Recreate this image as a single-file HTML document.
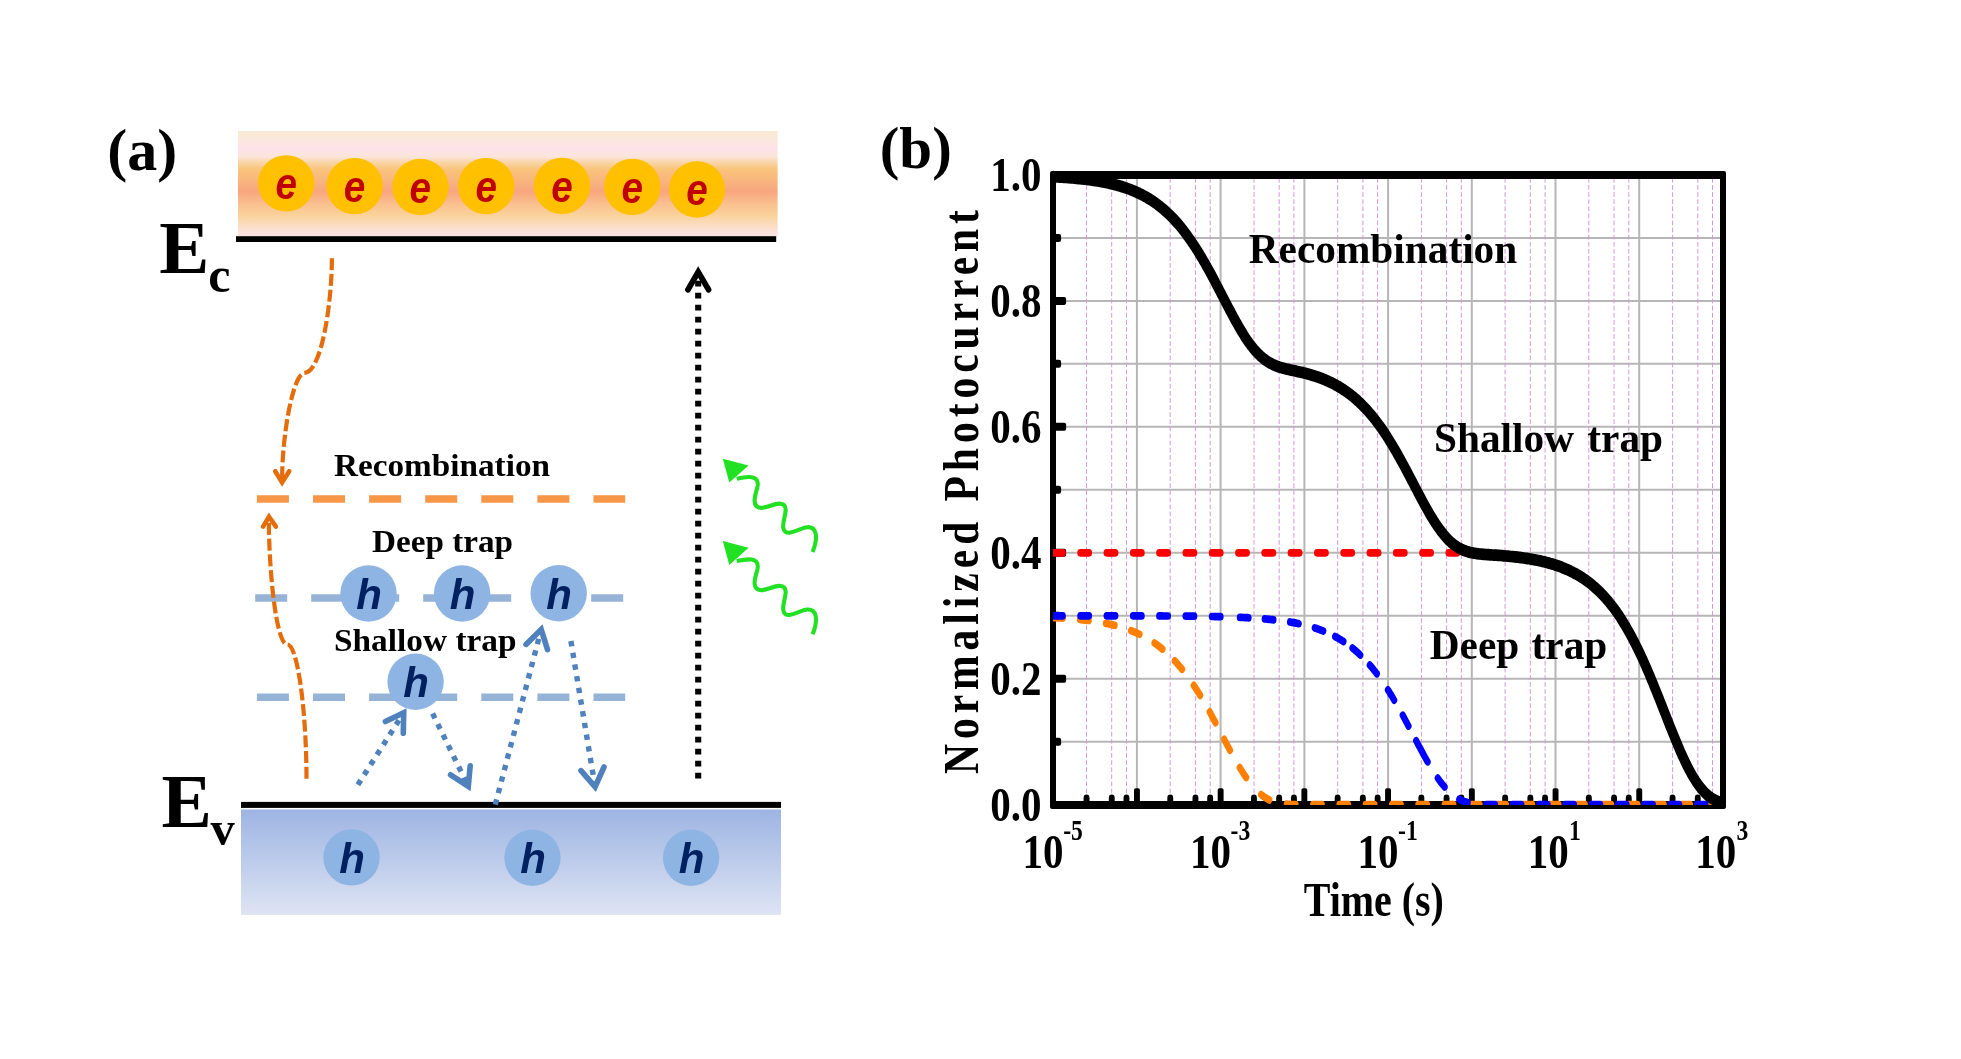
<!DOCTYPE html>
<html><head><meta charset="utf-8"><title>Figure</title>
<style>
html,body{margin:0;padding:0;background:#fff;}
body{width:1961px;height:1059px;overflow:hidden;}
svg{display:block;will-change:transform;}
text{font-family:"Liberation Serif",serif;font-weight:bold;fill:#000;}
.sans{font-family:"Liberation Sans",sans-serif;font-weight:bold;font-style:italic;}
</style></head><body>
<svg width="1961" height="1059" viewBox="0 0 1961 1059">
<defs>
<linearGradient id="gc" x1="0" y1="0" x2="0" y2="1">
<stop offset="0" stop-color="#f9ead2"/>
<stop offset="0.08" stop-color="#fbe8dc"/>
<stop offset="0.173" stop-color="#fde2ea"/>
<stop offset="0.243" stop-color="#fbe5da"/>
<stop offset="0.3" stop-color="#f9d4a6"/>
<stop offset="0.362" stop-color="#f9c47c"/>
<stop offset="0.48" stop-color="#f8b47e"/>
<stop offset="0.576" stop-color="#f8a67e"/>
<stop offset="0.695" stop-color="#f9c190"/>
<stop offset="0.8" stop-color="#fad29a"/>
<stop offset="0.887" stop-color="#fbdcc0"/>
<stop offset="0.962" stop-color="#fce2dc"/>
<stop offset="1" stop-color="#fce4e0"/>
</linearGradient>
<linearGradient id="gv" x1="0" y1="0" x2="0" y2="1">
<stop offset="0" stop-color="#9db4e3"/><stop offset="1" stop-color="#dee4f3"/>
</linearGradient>
<clipPath id="cp"><rect x="-0.25" y="160" width="837.7" height="645.1"/></clipPath>
</defs>
<rect x="0" y="0" width="1961" height="1059" fill="#ffffff"/>
<g id="panel-a">
<rect x="238" y="131" width="539.6" height="105.5" fill="url(#gc)"/>
<rect x="236" y="236.2" width="540.2" height="5.8" fill="#000"/>
<circle cx="286.2" cy="183.4" r="28.2" fill="#ffc000"/>
<text class="sans" x="286.2" y="199.4" font-size="45" text-anchor="middle" style="fill:#c00000" transform="translate(286.2 0) scale(0.86 1) translate(-286.2 0)">e</text>
<circle cx="354.6" cy="186.1" r="28.2" fill="#ffc000"/>
<text class="sans" x="354.6" y="202.1" font-size="45" text-anchor="middle" style="fill:#c00000" transform="translate(354.6 0) scale(0.86 1) translate(-354.6 0)">e</text>
<circle cx="420.4" cy="187" r="28.2" fill="#ffc000"/>
<text class="sans" x="420.4" y="203" font-size="45" text-anchor="middle" style="fill:#c00000" transform="translate(420.4 0) scale(0.86 1) translate(-420.4 0)">e</text>
<circle cx="486.2" cy="186.1" r="28.2" fill="#ffc000"/>
<text class="sans" x="486.2" y="202.1" font-size="45" text-anchor="middle" style="fill:#c00000" transform="translate(486.2 0) scale(0.86 1) translate(-486.2 0)">e</text>
<circle cx="562" cy="185.9" r="28.2" fill="#ffc000"/>
<text class="sans" x="562" y="201.9" font-size="45" text-anchor="middle" style="fill:#c00000" transform="translate(562 0) scale(0.86 1) translate(-562 0)">e</text>
<circle cx="632.3" cy="186.9" r="28.2" fill="#ffc000"/>
<text class="sans" x="632.3" y="202.9" font-size="45" text-anchor="middle" style="fill:#c00000" transform="translate(632.3 0) scale(0.86 1) translate(-632.3 0)">e</text>
<circle cx="697" cy="189.5" r="28.2" fill="#ffc000"/>
<text class="sans" x="697" y="205.5" font-size="45" text-anchor="middle" style="fill:#c00000" transform="translate(697 0) scale(0.86 1) translate(-697 0)">e</text>
<rect x="241" y="809.5" width="540" height="105.4" fill="url(#gv)"/>
<rect x="241" y="801.9" width="540" height="6" fill="#000"/>
<line x1="256.9" y1="499" x2="625.2" y2="499" stroke="#f79646" stroke-width="7.4" stroke-dasharray="32 24.1"/>
<line x1="255.2" y1="598" x2="623.2" y2="598" stroke="#95b3d7" stroke-width="7.4" stroke-dasharray="32 24"/>
<line x1="256.9" y1="697.2" x2="625.2" y2="697.2" stroke="#95b3d7" stroke-width="7.4" stroke-dasharray="32 24.1"/>
<circle cx="351.5" cy="857.4" r="28.2" fill="#8eb4e3"/>
<text class="sans" x="352" y="872.9" font-size="42" text-anchor="middle" style="fill:#002060">h</text>
<circle cx="532.5" cy="857.7" r="28.2" fill="#8eb4e3"/>
<text class="sans" x="533" y="873.2" font-size="42" text-anchor="middle" style="fill:#002060">h</text>
<circle cx="691.1" cy="857.7" r="28.2" fill="#8eb4e3"/>
<text class="sans" x="691.6" y="873.2" font-size="42" text-anchor="middle" style="fill:#002060">h</text>
<circle cx="368.5" cy="593.5" r="28.2" fill="#8eb4e3"/>
<text class="sans" x="369" y="609" font-size="42" text-anchor="middle" style="fill:#002060">h</text>
<circle cx="462.1" cy="593.5" r="28.2" fill="#8eb4e3"/>
<text class="sans" x="462.6" y="609" font-size="42" text-anchor="middle" style="fill:#002060">h</text>
<circle cx="558.7" cy="593.2" r="28.2" fill="#8eb4e3"/>
<text class="sans" x="559.2" y="608.7" font-size="42" text-anchor="middle" style="fill:#002060">h</text>
<circle cx="415.6" cy="681.8" r="28.2" fill="#8eb4e3"/>
<text class="sans" x="416.1" y="697.3" font-size="42" text-anchor="middle" style="fill:#002060">h</text>
<text x="334" y="476" font-size="32" textLength="216" lengthAdjust="spacingAndGlyphs">Recombination</text>
<text x="372" y="552" font-size="32" textLength="141" lengthAdjust="spacingAndGlyphs">Deep trap</text>
<text x="334" y="651" font-size="32" textLength="182.5" lengthAdjust="spacingAndGlyphs">Shallow trap</text>
<text x="107.3" y="169.8" font-size="60">(a)</text>
<text x="159.2" y="273" font-size="75">E</text>
<text x="208.2" y="292.3" font-size="50">c</text>
<text x="161.5" y="826.6" font-size="75.5">E</text>
<text x="210.6" y="845" font-size="48.5">v</text>
<path d="M331.9,258.3 C331.9,301 322,371.5 304.8,372.8 C293.1,372.8 282.1,434.8 282.1,480" fill="none" stroke="#e46c0a" stroke-width="4.2" stroke-dasharray="12 3.7"/>
<path d="M275.2,471.2 L282.1,482.4 L289.2,471.2" fill="none" stroke="#e46c0a" stroke-width="4.6" stroke-linecap="round" stroke-linejoin="miter"/>
<path d="M306.5,778.8 C306.5,709.9 297.2,640.7 286.5,644.6 C275.6,640.4 268.8,567.8 268.8,518" fill="none" stroke="#e46c0a" stroke-width="4.2" stroke-dasharray="12 3.7"/>
<path d="M263,526.6 L269,516.8 L275.9,526.6" fill="none" stroke="#e46c0a" stroke-width="4.6" stroke-linecap="round" stroke-linejoin="miter"/>
<line x1="357.9" y1="784.8" x2="403.7" y2="712.8" stroke="#4f81bd" stroke-width="5.4" stroke-dasharray="5.4 6.45"/>
<path d="M385.4,721.6 L403.7,712.8 L403.3,733.2" fill="none" stroke="#4f81bd" stroke-width="5.6" stroke-linecap="round" stroke-linejoin="miter"/>
<line x1="432.6" y1="713.5" x2="468.3" y2="786.4" stroke="#4f81bd" stroke-width="5.4" stroke-dasharray="5.4 6.45"/>
<path d="M450.6,774.8 L468.3,786.4 L470.2,765.8" fill="none" stroke="#4f81bd" stroke-width="5.6" stroke-linecap="round" stroke-linejoin="miter"/>
<line x1="495.3" y1="804.6" x2="541.2" y2="629.4" stroke="#4f81bd" stroke-width="5.4" stroke-dasharray="5.4 6.45"/>
<path d="M526,644.4 L541.2,629.4 L547.5,649.6" fill="none" stroke="#4f81bd" stroke-width="5.6" stroke-linecap="round" stroke-linejoin="miter"/>
<line x1="570.9" y1="641" x2="595.1" y2="786.8" stroke="#4f81bd" stroke-width="5.4" stroke-dasharray="5.4 6.45"/>
<path d="M581,770.6 L595.1,786.8 L604,767" fill="none" stroke="#4f81bd" stroke-width="5.6" stroke-linecap="round" stroke-linejoin="miter"/>
<line x1="698.2" y1="778.4" x2="698.2" y2="280" stroke="#000" stroke-width="6.1" stroke-dasharray="5.6 6.4"/>
<path d="M687.9,289.7 L698.2,272 L708.6,289.7" fill="none" stroke="#000" stroke-width="5.7" stroke-linecap="round" stroke-linejoin="miter"/>
<g transform="translate(0 0)">
<path d="M736.7,478.7 C742,477.5 747,476.6 751.6,477.2 C756.5,478 758.3,480.5 757.6,486 C756.8,491 754.2,496 754.6,501 C755,506.5 758,508.3 762.5,507.8 C768,507.2 774,503.8 779.3,503.6 C784,503.5 786,506 785.6,511 C785.2,516.5 782.6,522.5 783.2,527.5 C783.8,532 786.5,533.2 790.5,532.5 C796,531.6 802,527.6 807.1,527.2 C811.5,526.9 814.3,528.6 815.5,533 C817,539 815,546 812.6,552" fill="none" stroke="#22e022" stroke-width="4.1" stroke-linecap="butt"/>
<path d="M722.8,458.8 L748.6,465.4 L729.3,482.6 Z" fill="#22e022"/>
</g>
<g transform="translate(0 82.3)">
<path d="M736.7,478.7 C742,477.5 747,476.6 751.6,477.2 C756.5,478 758.3,480.5 757.6,486 C756.8,491 754.2,496 754.6,501 C755,506.5 758,508.3 762.5,507.8 C768,507.2 774,503.8 779.3,503.6 C784,503.5 786,506 785.6,511 C785.2,516.5 782.6,522.5 783.2,527.5 C783.8,532 786.5,533.2 790.5,532.5 C796,531.6 802,527.6 807.1,527.2 C811.5,526.9 814.3,528.6 815.5,533 C817,539 815,546 812.6,552" fill="none" stroke="#22e022" stroke-width="4.1" stroke-linecap="butt"/>
<path d="M722.8,458.8 L748.6,465.4 L729.3,482.6 Z" fill="#22e022"/>
</g>
</g>
<g id="panel-b">
<text x="879.7" y="168" font-size="60" textLength="72.1" lengthAdjust="spacingAndGlyphs">(b)</text>
<path d="M1053,741.7 H1723 M1053,678.7 H1723 M1053,615.8 H1723 M1053,552.8 H1723 M1053,489.8 H1723 M1053,426.8 H1723 M1053,363.8 H1723 M1053,300.9 H1723 M1053,237.9 H1723 M1136.9,175 V805 M1220.6,175 V805 M1304.4,175 V805 M1388.1,175 V805 M1471.8,175 V805 M1555.5,175 V805 M1639.2,175 V805" fill="none" stroke="#b6b6b6" stroke-width="2"/>
<path d="M1086.5,178 V802 M1111.7,178 V802 M1126.5,178 V802 M1170.2,178 V802 M1195.4,178 V802 M1210.2,178 V802 M1254,178 V802 M1279.2,178 V802 M1293.9,178 V802 M1337.7,178 V802 M1362.9,178 V802 M1377.6,178 V802 M1421.4,178 V802 M1446.6,178 V802 M1461.3,178 V802 M1505.1,178 V802 M1530.3,178 V802 M1545.1,178 V802 M1588.8,178 V802 M1614,178 V802 M1628.8,178 V802 M1672.6,178 V802 M1697.8,178 V802 M1712.5,178 V802" fill="none" stroke="#d39ad3" stroke-width="1" stroke-dasharray="4.7 2.4"/>
<path fill-rule="evenodd" fill="#000" d="M1052,171 H1724 Q1726,171 1726,173 V807 Q1726,809 1724,809 H1052 Q1050,809 1050,807 V173 Q1050,171 1052,171 Z M1056,179 V801 H1720 V179 Z"/>
<rect x="1134" y="788.2" width="5.9" height="16" rx="1.8" fill="#000"/>
<rect x="1217.7" y="788.2" width="5.9" height="16" rx="1.8" fill="#000"/>
<rect x="1301.4" y="788.2" width="5.9" height="16" rx="1.8" fill="#000"/>
<rect x="1385.1" y="788.2" width="5.9" height="16" rx="1.8" fill="#000"/>
<rect x="1468.9" y="788.2" width="5.9" height="16" rx="1.8" fill="#000"/>
<rect x="1552.6" y="788.2" width="5.9" height="16" rx="1.8" fill="#000"/>
<rect x="1636.3" y="788.2" width="5.9" height="16" rx="1.8" fill="#000"/>
<rect x="1083.6" y="794.6" width="5.9" height="10" rx="2.95" ry="3.4" fill="#000"/>
<rect x="1108.8" y="794.6" width="5.9" height="10" rx="2.95" ry="3.4" fill="#000"/>
<rect x="1123.5" y="794.6" width="5.9" height="10" rx="2.95" ry="3.4" fill="#000"/>
<rect x="1167.3" y="794.6" width="5.9" height="10" rx="2.95" ry="3.4" fill="#000"/>
<rect x="1192.5" y="794.6" width="5.9" height="10" rx="2.95" ry="3.4" fill="#000"/>
<rect x="1207.2" y="794.6" width="5.9" height="10" rx="2.95" ry="3.4" fill="#000"/>
<rect x="1251" y="794.6" width="5.9" height="10" rx="2.95" ry="3.4" fill="#000"/>
<rect x="1276.2" y="794.6" width="5.9" height="10" rx="2.95" ry="3.4" fill="#000"/>
<rect x="1291" y="794.6" width="5.9" height="10" rx="2.95" ry="3.4" fill="#000"/>
<rect x="1334.7" y="794.6" width="5.9" height="10" rx="2.95" ry="3.4" fill="#000"/>
<rect x="1359.9" y="794.6" width="5.9" height="10" rx="2.95" ry="3.4" fill="#000"/>
<rect x="1374.7" y="794.6" width="5.9" height="10" rx="2.95" ry="3.4" fill="#000"/>
<rect x="1418.4" y="794.6" width="5.9" height="10" rx="2.95" ry="3.4" fill="#000"/>
<rect x="1443.6" y="794.6" width="5.9" height="10" rx="2.95" ry="3.4" fill="#000"/>
<rect x="1458.4" y="794.6" width="5.9" height="10" rx="2.95" ry="3.4" fill="#000"/>
<rect x="1502.2" y="794.6" width="5.9" height="10" rx="2.95" ry="3.4" fill="#000"/>
<rect x="1527.4" y="794.6" width="5.9" height="10" rx="2.95" ry="3.4" fill="#000"/>
<rect x="1542.1" y="794.6" width="5.9" height="10" rx="2.95" ry="3.4" fill="#000"/>
<rect x="1585.9" y="794.6" width="5.9" height="10" rx="2.95" ry="3.4" fill="#000"/>
<rect x="1611.1" y="794.6" width="5.9" height="10" rx="2.95" ry="3.4" fill="#000"/>
<rect x="1625.8" y="794.6" width="5.9" height="10" rx="2.95" ry="3.4" fill="#000"/>
<rect x="1669.6" y="794.6" width="5.9" height="10" rx="2.95" ry="3.4" fill="#000"/>
<rect x="1694.8" y="794.6" width="5.9" height="10" rx="2.95" ry="3.4" fill="#000"/>
<rect x="1709.6" y="794.6" width="5.9" height="10" rx="2.95" ry="3.4" fill="#000"/>
<rect x="1053" y="674.7" width="13.1" height="8" rx="1.8" fill="#000"/>
<rect x="1053" y="548.8" width="13.1" height="8" rx="1.8" fill="#000"/>
<rect x="1053" y="422.8" width="13.1" height="8" rx="1.8" fill="#000"/>
<rect x="1053" y="296.9" width="13.1" height="8" rx="1.8" fill="#000"/>
<rect x="1053" y="737.7" width="8.1" height="8" rx="2.2" fill="#000"/>
<rect x="1053" y="611.8" width="8.1" height="8" rx="2.2" fill="#000"/>
<rect x="1053" y="485.8" width="8.1" height="8" rx="2.2" fill="#000"/>
<rect x="1053" y="359.8" width="8.1" height="8" rx="2.2" fill="#000"/>
<rect x="1053" y="233.9" width="8.1" height="8" rx="2.2" fill="#000"/>
<g transform="translate(1053.2 0) scale(0.8 1)">
<g clip-path="url(#cp)" fill="none" stroke-linecap="round" stroke-width="7.7">
<path d="M1,617.6 L2.1,617.7 L3.4,617.7 L4.6,617.8 L5.9,617.8 L7.1,617.9 L8.4,617.9 L9.6,618 L10.9,618.1 L12,618.1 M33.5,619.5 L34.6,619.6 L35.9,619.7 L37.1,619.8 L38.4,619.9 L39.6,620.1 L40.9,620.2 L42.1,620.3 L43.4,620.4 L44.4,620.5 M65.9,623.4 L67.2,623.6 L68.4,623.8 L69.7,624 L71,624.2 L72.2,624.5 L73.5,624.7 L74.7,624.9 L76,625.2 L76.8,625.3 M97.3,630.6 L98.4,631 L99.7,631.4 L101,631.8 L102.2,632.2 L103.5,632.7 L104.7,633.1 L106,633.6 L107.2,634 L107.9,634.3 M126.6,643 L127.6,643.6 L128.9,644.3 L130.2,645.1 L131.4,645.8 L132.7,646.6 L133.9,647.4 L135.2,648.2 L136.4,649 L136.6,649.1 M152,660.9 L153.3,661.9 L154.5,663.1 L155.8,664.2 L157,665.4 L158.3,666.5 L159.6,667.8 L160.8,669 L161.1,669.2 M175.7,685.4 L176.8,686.7 L178.1,688.2 L179.3,689.8 L180.6,691.4 L181.8,693 L183.1,694.6 L183.7,695.4 M195.6,711.9 L196.7,713.6 L198,715.4 L199.2,717.3 L200.5,719.2 L201.8,721 L202.9,722.7 M213.8,739.3 L214.9,741 L216.1,742.9 L217.4,744.8 L218.6,746.7 L219.9,748.6 L221,750.2 M233.2,767.6 L234.4,769.2 L235.7,770.8 L236.9,772.4 L238.2,773.9 L239.4,775.5 L240.7,776.9 L241.2,777.5 M259.9,794.6 L261.1,795.4 L262.4,796.1 L263.6,796.8 L264.9,797.5 L266.1,798.1 L267.4,798.7 L268.6,799.3 L269.9,799.8 L270.1,799.9 M292,804.2 L293.1,804.3 L294.4,804.3 L295.6,804.4 L296.9,804.4 L298.1,804.5 L299.4,804.5 L300.6,804.6 L301.9,804.6 L303,804.6 M324.9,804.7 L326,804.7 L327.2,804.7 L328.5,804.7 L329.7,804.7 L331,804.7 L332.3,804.7 L333.5,804.7 L334.8,804.7 L335.8,804.7 M357.8,804.7 L358.9,804.7 L360.1,804.7 L361.4,804.7 L362.6,804.7 L363.9,804.7 L365.1,804.7 L366.4,804.7 L367.6,804.7 L368.7,804.7 M390.7,804.7 L391.7,804.7 L393,804.7 L394.2,804.7 L395.5,804.7 L396.8,804.7 L398,804.7 L399.3,804.7 L400.5,804.7 L401.6,804.7 M423.5,804.7 L424.6,804.7 L425.9,804.7 L427.1,804.7 L428.4,804.7 L429.6,804.7 L430.9,804.7 L432.1,804.7 L433.4,804.7 L434.5,804.7 M456.4,804.7 L457.5,804.7 L458.7,804.7 L460,804.7 L461.2,804.7 L462.5,804.7 L463.8,804.7 L465,804.7 L466.3,804.7 L467.3,804.7 M489.3,804.7 L490.4,804.7 L491.6,804.7 L492.9,804.7 L494.1,804.7 L495.4,804.7 L496.6,804.7 L497.9,804.7 L499.1,804.7 L500.2,804.7 M522.2,804.7 L523.2,804.7 L524.5,804.7 L525.7,804.7 L527,804.7 L528.3,804.7 L529.5,804.7 L530.8,804.7 L532,804.7 L533.1,804.7 M555,804.7 L556.1,804.7 L557.4,804.7 L558.6,804.7 L559.9,804.7 L561.1,804.7 L562.4,804.7 L563.6,804.7 L564.9,804.7 L566,804.7 M587.9,804.7 L589,804.7 L590.2,804.7 L591.5,804.7 L592.7,804.7 L594,804.7 L595.3,804.7 L596.5,804.7 L597.8,804.7 L598.8,804.7 M620.8,804.7 L621.9,804.7 L623.1,804.7 L624.4,804.7 L625.6,804.7 L626.9,804.7 L628.1,804.7 L629.4,804.7 L630.6,804.7 L631.7,804.7 M653.7,804.7 L654.7,804.7 L656,804.7 L657.2,804.7 L658.5,804.7 L659.8,804.7 L661,804.7 L662.3,804.7 L663.5,804.7 L664.6,804.7 M686.5,804.7 L687.6,804.7 L688.9,804.7 L690.1,804.7 L691.4,804.7 L692.6,804.7 L693.9,804.7 L695.1,804.7 L696.4,804.7 L697.5,804.7 M719.4,804.7 L720.5,804.7 L721.7,804.7 L723,804.7 L724.2,804.7 L725.5,804.7 L726.8,804.7 L728,804.7 L729.3,804.7 L730.3,804.7 M752.3,804.7 L753.4,804.7 L754.6,804.7 L755.9,804.7 L757.1,804.7 L758.4,804.7 L759.6,804.7 L760.9,804.7 L762.1,804.7 L763.2,804.7 M785.2,804.7 L786.2,804.7 L787.5,804.7 L788.7,804.7 L790,804.7 L791.3,804.7 L792.5,804.7 L793.8,804.7 L795,804.7 L796.1,804.7 M818,804.7 L819.1,804.7 L820.4,804.7 L821.6,804.7 L822.9,804.7 L824.1,804.7 L825.4,804.7 L826.6,804.7 L827.9,804.7 L829,804.7" stroke="#ff8000"/>
<path d="M1,615.8 L2.1,615.8 L3.4,615.8 L4.6,615.8 L5.9,615.8 L7.1,615.8 L8.4,615.8 L9.6,615.8 L10.9,615.8 L12,615.8 M33.9,615.8 L35,615.8 L36.2,615.8 L37.5,615.8 L38.7,615.8 L40,615.8 L41.3,615.8 L42.5,615.8 L43.8,615.8 L44.8,615.8 M66.8,615.8 L67.9,615.8 L69.1,615.8 L70.4,615.8 L71.6,615.8 L72.9,615.8 L74.1,615.8 L75.4,615.8 L76.6,615.8 L77.7,615.8 M99.7,615.8 L100.7,615.8 L102,615.8 L103.2,615.9 L104.5,615.9 L105.8,615.9 L107,615.9 L108.3,615.9 L109.5,615.9 L110.6,615.9 M132.5,615.9 L133.6,615.9 L134.9,615.9 L136.1,615.9 L137.4,616 L138.6,616 L139.9,616 L141.1,616 L142.4,616 L143.5,616 M165.4,616.1 L166.5,616.1 L167.7,616.1 L169,616.1 L170.2,616.2 L171.5,616.2 L172.8,616.2 L174,616.2 L175.3,616.2 L176.3,616.2 M198.3,616.5 L199.4,616.5 L200.6,616.5 L201.9,616.6 L203.1,616.6 L204.4,616.6 L205.6,616.6 L206.9,616.7 L208.1,616.7 L209.2,616.7 M233.3,617.4 L234.4,617.4 L235.6,617.4 L236.9,617.5 L238.1,617.5 L239.4,617.6 L240.6,617.6 L241.9,617.7 L243.1,617.7 L244.2,617.8 M264.4,618.9 L265.5,619 L266.7,619.1 L268,619.2 L269.2,619.3 L270.5,619.4 L271.8,619.5 L273,619.6 L274.3,619.7 L275.3,619.8 M296.1,622 L297.3,622.2 L298.6,622.4 L299.8,622.6 L301.1,622.7 L302.3,622.9 L303.6,623.1 L304.8,623.3 L306.1,623.5 L306.9,623.7 M326.9,627.9 L328.1,628.2 L329.3,628.6 L330.6,628.9 L331.8,629.3 L333.1,629.6 L334.3,630 L335.6,630.4 L336.9,630.8 L337.6,631 M352.4,636.5 L353.6,637.1 L354.9,637.6 L356.2,638.2 L357.4,638.8 L358.7,639.4 L359.9,640 L361.2,640.7 L362.4,641.3 L362.8,641.5 M374.1,648.1 L375.2,648.9 L376.5,649.7 L377.7,650.5 L379,651.4 L380.3,652.3 L381.5,653.2 L382.8,654.2 L383.8,655 M395.8,665.1 L396.9,666.1 L398.2,667.3 L399.4,668.6 L400.7,669.8 L401.9,671.1 L403.2,672.4 L404.4,673.7 L404.6,673.8 M418.4,689.9 L419.7,691.4 L420.9,693.1 L422.2,694.7 L423.4,696.3 L424.7,698 L425.9,699.7 L426.2,700.1 M436.9,715.2 L438,716.9 L439.2,718.7 L440.5,720.6 L441.8,722.5 L443,724.4 L444.1,726 M453.7,740.7 L454.9,742.5 L456.1,744.4 L457.4,746.3 L458.7,748.2 L459.9,750.1 L461.2,751.9 L462.4,753.8 L463.7,755.6 L464.9,757.4 L466.2,759.2 L467.4,761 L468,761.8 M480.7,778.1 L481.7,779.3 L483,780.7 L484.2,782 L485.5,783.3 L486.8,784.6 L488,785.8 L489.3,787 L489.3,787 M507.5,799.2 L508.6,799.6 L509.8,800.1 L511.1,800.6 L512.3,801 L513.6,801.4 L514.8,801.7 L516.1,802.1 L517.4,802.4 L518.2,802.5 M541.4,804.6 L542.5,804.6 L543.7,804.6 L545,804.6 L546.2,804.7 L547.5,804.7 L548.8,804.7 L550,804.7 L551.3,804.7 L552.3,804.7 M574.3,804.7 L575.4,804.7 L576.6,804.7 L577.9,804.7 L579.1,804.7 L580.4,804.7 L581.6,804.7 L582.9,804.7 L584.1,804.7 L585.2,804.7 M607.2,804.7 L608.2,804.7 L609.5,804.7 L610.7,804.7 L612,804.7 L613.3,804.7 L614.5,804.7 L615.8,804.7 L617,804.7 L618.1,804.7 M640,804.7 L641.1,804.7 L642.4,804.7 L643.6,804.7 L644.9,804.7 L646.1,804.7 L647.4,804.7 L648.6,804.7 L649.9,804.7 L651,804.7 M672.9,804.7 L674,804.7 L675.2,804.7 L676.5,804.7 L677.7,804.7 L679,804.7 L680.3,804.7 L681.5,804.7 L682.8,804.7 L683.8,804.7 M705.8,804.7 L706.9,804.7 L708.1,804.7 L709.4,804.7 L710.6,804.7 L711.9,804.7 L713.1,804.7 L714.4,804.7 L715.6,804.7 L716.7,804.7 M738.7,804.7 L739.7,804.7 L741,804.7 L742.2,804.7 L743.5,804.7 L744.8,804.7 L746,804.7 L747.3,804.7 L748.5,804.7 L749.6,804.7 M771.5,804.7 L772.6,804.7 L773.9,804.7 L775.1,804.7 L776.4,804.7 L777.6,804.7 L778.9,804.7 L780.1,804.7 L781.4,804.7 L782.5,804.7 M804.4,804.7 L805.5,804.7 L806.7,804.7 L808,804.7 L809.2,804.7 L810.5,804.7 L811.8,804.7 L813,804.7 L814.3,804.7 L815.3,804.7" stroke="#0000ff"/>
<path d="M1,552.8 L2.1,552.8 L3.4,552.8 L4.6,552.8 L5.9,552.8 L7.1,552.8 L8.4,552.8 L9.6,552.8 L10.9,552.8 L12,552.8 M33.9,552.8 L35,552.8 L36.2,552.8 L37.5,552.8 L38.7,552.8 L40,552.8 L41.3,552.8 L42.5,552.8 L43.8,552.8 L44.8,552.8 M66.8,552.8 L67.9,552.8 L69.1,552.8 L70.4,552.8 L71.6,552.8 L72.9,552.8 L74.1,552.8 L75.4,552.8 L76.6,552.8 L77.7,552.8 M99.7,552.8 L100.7,552.8 L102,552.8 L103.2,552.8 L104.5,552.8 L105.8,552.8 L107,552.8 L108.3,552.8 L109.5,552.8 L110.6,552.8 M132.5,552.8 L133.6,552.8 L134.9,552.8 L136.1,552.8 L137.4,552.8 L138.6,552.8 L139.9,552.8 L141.1,552.8 L142.4,552.8 L143.5,552.8 M165.4,552.8 L166.5,552.8 L167.7,552.8 L169,552.8 L170.2,552.8 L171.5,552.8 L172.8,552.8 L174,552.8 L175.3,552.8 L176.3,552.8 M198.3,552.8 L199.4,552.8 L200.6,552.8 L201.9,552.8 L203.1,552.8 L204.4,552.8 L205.6,552.8 L206.9,552.8 L208.1,552.8 L209.2,552.8 M231.2,552.8 L232.2,552.8 L233.5,552.8 L234.7,552.8 L236,552.8 L237.3,552.8 L238.5,552.8 L239.8,552.8 L241,552.8 L242.1,552.8 M264,552.8 L265.1,552.8 L266.4,552.8 L267.6,552.8 L268.9,552.8 L270.1,552.8 L271.4,552.8 L272.6,552.8 L273.9,552.8 L275,552.8 M296.9,552.8 L298,552.8 L299.2,552.8 L300.5,552.8 L301.7,552.8 L303,552.8 L304.3,552.8 L305.5,552.8 L306.8,552.8 L307.8,552.8 M329.8,552.8 L330.9,552.8 L332.1,552.8 L333.4,552.8 L334.6,552.8 L335.9,552.8 L337.1,552.8 L338.4,552.8 L339.6,552.8 L340.7,552.8 M362.7,552.8 L363.7,552.8 L365,552.8 L366.2,552.8 L367.5,552.8 L368.8,552.8 L370,552.8 L371.3,552.8 L372.5,552.8 L373.6,552.8 M395.5,552.8 L396.6,552.8 L397.9,552.8 L399.1,552.8 L400.4,552.8 L401.6,552.8 L402.9,552.8 L404.1,552.8 L405.4,552.8 L406.5,552.8 M428.4,552.8 L429.5,552.8 L430.7,552.8 L432,552.8 L433.2,552.8 L434.5,552.8 L435.8,552.8 L437,552.8 L438.3,552.8 L439.3,552.8 M461.3,552.8 L462.4,552.8 L463.6,552.8 L464.9,552.8 L466.1,552.8 L467.4,552.8 L468.6,552.8 L469.9,552.8 L471.1,552.8 L472.2,552.8 M494.2,552.8 L495.2,552.8 L496.5,552.8 L497.7,552.8 L499,552.8 L500.3,552.8 L501.5,552.8 L502.8,552.8 L504,552.8 L505.1,552.8" stroke="#ff0000"/>
<path d="M-10.5,176.3 L-8.8,176.4 L-7.1,176.5 L-5.4,176.5 L-3.7,176.6 L-2,176.6 L-0.3,176.7 L1.4,176.8 L3.1,176.8 L4.8,176.9 L6.5,177 L8.2,177.1 L9.9,177.2 L11.6,177.2 L13.3,177.3 L15,177.4 L16.7,177.5 L18.4,177.6 L20.1,177.7 L21.7,177.8 L23.4,177.9 L25.1,178 L26.8,178.2 L28.5,178.3 L30.2,178.4 L31.9,178.6 L33.6,178.7 L35.3,178.8 L37,179 L38.7,179.1 L40.4,179.3 L42.1,179.5 L43.8,179.6 L45.5,179.8 L47.2,180 L48.9,180.2 L50.6,180.4 L52.3,180.6 L54,180.8 L55.7,181 L57.3,181.2 L59,181.5 L60.7,181.7 L62.4,182 L64.1,182.2 L65.8,182.5 L67.5,182.8 L69.2,183.1 L70.9,183.4 L72.6,183.7 L74.3,184 L76,184.4 L77.7,184.7 L79.4,185.1 L81.1,185.5 L82.8,185.9 L84.5,186.3 L86.2,186.7 L87.9,187.1 L89.6,187.6 L91.3,188 L93,188.5 L94.6,189 L96.3,189.5 L98,190.1 L99.7,190.6 L101.4,191.2 L103.1,191.8 L104.8,192.4 L106.5,193 L108.2,193.7 L109.9,194.3 L111.6,195 L113.3,195.8 L115,196.5 L116.7,197.3 L118.4,198.1 L120.1,198.9 L121.8,199.7 L123.5,200.6 L125.2,201.5 L126.9,202.5 L128.6,203.4 L130.2,204.4 L131.9,205.5 L133.6,206.5 L135.3,207.6 L137,208.7 L138.7,209.9 L140.4,211.1 L142.1,212.3 L143.8,213.6 L145.5,214.9 L147.2,216.2 L148.9,217.6 L150.6,219 L152.3,220.5 L154,222 L155.7,223.5 L157.4,225.1 L159.1,226.7 L160.8,228.4 L162.5,230.1 L164.2,231.9 L165.8,233.6 L167.5,235.5 L169.2,237.4 L170.9,239.3 L172.6,241.2 L174.3,243.3 L176,245.3 L177.7,247.4 L179.4,249.5 L181.1,251.7 L182.8,253.9 L184.5,256.2 L186.2,258.4 L187.9,260.8 L189.6,263.1 L191.3,265.5 L193,268 L194.7,270.4 L196.4,272.9 L198.1,275.4 L199.8,277.9 L201.5,280.5 L203.1,283.1 L204.8,285.7 L206.5,288.3 L208.2,290.9 L209.9,293.5 L211.6,296.2 L213.3,298.8 L215,301.4 L216.7,304 L218.4,306.6 L220.1,309.2 L221.8,311.8 L223.5,314.3 L225.2,316.9 L226.9,319.4 L228.6,321.8 L230.3,324.2 L232,326.6 L233.7,328.9 L235.4,331.2 L237.1,333.4 L238.7,335.6 L240.4,337.7 L242.1,339.7 L243.8,341.7 L245.5,343.6 L247.2,345.4 L248.9,347.1 L250.6,348.8 L252.3,350.4 L254,351.9 L255.7,353.4 L257.4,354.7 L259.1,356 L260.8,357.2 L262.5,358.3 L264.2,359.4 L265.9,360.4 L267.6,361.3 L269.3,362.2 L271,363 L272.7,363.7 L274.4,364.4 L276,365 L277.7,365.6 L279.4,366.1 L281.1,366.6 L282.8,367.1 L284.5,367.5 L286.2,367.9 L287.9,368.3 L289.6,368.6 L291.3,369 L293,369.3 L294.7,369.6 L296.4,369.9 L298.1,370.2 L299.8,370.5 L301.5,370.8 L303.2,371.1 L304.9,371.4 L306.6,371.7 L308.3,372 L310,372.3 L311.6,372.6 L313.3,372.9 L315,373.3 L316.7,373.6 L318.4,374 L320.1,374.4 L321.8,374.8 L323.5,375.2 L325.2,375.6 L326.9,376 L328.6,376.5 L330.3,376.9 L332,377.4 L333.7,377.9 L335.4,378.4 L337.1,378.9 L338.8,379.5 L340.5,380.1 L342.2,380.6 L343.9,381.3 L345.6,381.9 L347.2,382.5 L348.9,383.2 L350.6,383.9 L352.3,384.6 L354,385.4 L355.7,386.1 L357.4,386.9 L359.1,387.7 L360.8,388.6 L362.5,389.5 L364.2,390.4 L365.9,391.3 L367.6,392.3 L369.3,393.3 L371,394.3 L372.7,395.3 L374.4,396.4 L376.1,397.5 L377.8,398.7 L379.5,399.9 L381.2,401.1 L382.9,402.4 L384.5,403.7 L386.2,405 L387.9,406.4 L389.6,407.8 L391.3,409.2 L393,410.7 L394.7,412.3 L396.4,413.8 L398.1,415.5 L399.8,417.1 L401.5,418.8 L403.2,420.6 L404.9,422.3 L406.6,424.2 L408.3,426 L410,427.9 L411.7,429.9 L413.4,431.9 L415.1,433.9 L416.8,436 L418.5,438.1 L420.1,440.3 L421.8,442.5 L423.5,444.7 L425.2,447 L426.9,449.3 L428.6,451.6 L430.3,454 L432,456.4 L433.7,458.9 L435.4,461.3 L437.1,463.8 L438.8,466.3 L440.5,468.9 L442.2,471.4 L443.9,474 L445.6,476.6 L447.3,479.2 L449,481.8 L450.7,484.4 L452.4,487 L454.1,489.6 L455.8,492.2 L457.4,494.7 L459.1,497.3 L460.8,499.8 L462.5,502.4 L464.2,504.8 L465.9,507.3 L467.6,509.7 L469.3,512.1 L471,514.4 L472.7,516.7 L474.4,518.9 L476.1,521.1 L477.8,523.2 L479.5,525.2 L481.2,527.2 L482.9,529.1 L484.6,531 L486.3,532.7 L488,534.4 L489.7,536 L491.4,537.6 L493,539 L494.7,540.4 L496.4,541.7 L498.1,542.9 L499.8,544 L501.5,545 L503.2,546 L504.9,546.9 L506.6,547.8 L508.3,548.5 L510,549.2 L511.7,549.8 L513.4,550.4 L515.1,550.9 L516.8,551.4 L518.5,551.8 L520.2,552.2 L521.9,552.5 L523.6,552.8 L525.3,553.1 L527,553.3 L528.6,553.5 L530.3,553.7 L532,553.9 L533.7,554 L535.4,554.1 L537.1,554.3 L538.8,554.4 L540.5,554.5 L542.2,554.6 L543.9,554.7 L545.6,554.8 L547.3,554.9 L549,555 L550.7,555.1 L552.4,555.1 L554.1,555.2 L555.8,555.3 L557.5,555.4 L559.2,555.5 L560.9,555.6 L562.6,555.8 L564.3,555.9 L565.9,556 L567.6,556.1 L569.3,556.2 L571,556.4 L572.7,556.5 L574.4,556.6 L576.1,556.8 L577.8,556.9 L579.5,557.1 L581.2,557.2 L582.9,557.4 L584.6,557.6 L586.3,557.8 L588,558 L589.7,558.2 L591.4,558.4 L593.1,558.6 L594.8,558.8 L596.5,559 L598.2,559.2 L599.9,559.5 L601.5,559.7 L603.2,560 L604.9,560.3 L606.6,560.5 L608.3,560.8 L610,561.1 L611.7,561.5 L613.4,561.8 L615.1,562.1 L616.8,562.5 L618.5,562.8 L620.2,563.2 L621.9,563.6 L623.6,564 L625.3,564.4 L627,564.8 L628.7,565.3 L630.4,565.7 L632.1,566.2 L633.8,566.7 L635.5,567.2 L637.2,567.8 L638.8,568.3 L640.5,568.9 L642.2,569.5 L643.9,570.1 L645.6,570.7 L647.3,571.4 L649,572 L650.7,572.8 L652.4,573.5 L654.1,574.2 L655.8,575 L657.5,575.8 L659.2,576.6 L660.9,577.5 L662.6,578.4 L664.3,579.3 L666,580.3 L667.7,581.3 L669.4,582.3 L671.1,583.3 L672.8,584.4 L674.4,585.5 L676.1,586.7 L677.8,587.9 L679.5,589.1 L681.2,590.4 L682.9,591.7 L684.6,593 L686.3,594.4 L688,595.9 L689.7,597.4 L691.4,598.9 L693.1,600.5 L694.8,602.1 L696.5,603.8 L698.2,605.5 L699.9,607.3 L701.6,609.1 L703.3,610.9 L705,612.9 L706.7,614.8 L708.4,616.9 L710.1,619 L711.7,621.1 L713.4,623.3 L715.1,625.5 L716.8,627.9 L718.5,630.2 L720.2,632.6 L721.9,635.1 L723.6,637.6 L725.3,640.2 L727,642.9 L728.7,645.6 L730.4,648.3 L732.1,651.1 L733.8,654 L735.5,656.9 L737.2,659.9 L738.9,662.9 L740.6,666 L742.3,669.1 L744,672.2 L745.7,675.4 L747.3,678.6 L749,681.9 L750.7,685.2 L752.4,688.6 L754.1,691.9 L755.8,695.3 L757.5,698.7 L759.2,702.2 L760.9,705.6 L762.6,709.1 L764.3,712.5 L766,716 L767.7,719.4 L769.4,722.9 L771.1,726.3 L772.8,729.7 L774.5,733.1 L776.2,736.4 L777.9,739.7 L779.6,743 L781.3,746.2 L782.9,749.4 L784.6,752.5 L786.3,755.5 L788,758.4 L789.7,761.3 L791.4,764.1 L793.1,766.9 L794.8,769.5 L796.5,772 L798.2,774.5 L799.9,776.8 L801.6,779 L803.3,781.2 L805,783.2 L806.7,785.1 L808.4,786.9 L810.1,788.6 L811.8,790.2 L813.5,791.7 L815.2,793.1 L816.9,794.4 L818.6,795.6 L820.2,796.6 L821.9,797.6 L823.6,798.5 L825.3,799.3 L827,800.1 L828.7,800.7 L830.4,801.3 L832.1,801.8 L833.8,802.3 L835.5,802.7 L837.2,803" stroke="#000" stroke-width="11.7" stroke-linejoin="round" stroke-linecap="butt"/>
</g>
</g>
<text font-size="49.4" text-anchor="end" transform="translate(1041.6 820.9) scale(0.83 1)">0.0</text>
<text font-size="49.4" text-anchor="end" transform="translate(1041.6 694.9) scale(0.83 1)">0.2</text>
<text font-size="49.4" text-anchor="end" transform="translate(1041.6 569) scale(0.83 1)">0.4</text>
<text font-size="49.4" text-anchor="end" transform="translate(1041.6 443) scale(0.83 1)">0.6</text>
<text font-size="49.4" text-anchor="end" transform="translate(1041.6 317.1) scale(0.83 1)">0.8</text>
<text font-size="49.4" text-anchor="end" transform="translate(1041.6 191.1) scale(0.83 1)">1.0</text>
<g transform="translate(1053.2 868) scale(0.83 1)">
<text font-size="49.4" x="-37">10</text><text font-size="28.5" x="12" y="-28.3">-5</text>
</g>
<g transform="translate(1220.6 868) scale(0.83 1)">
<text font-size="49.4" x="-37">10</text><text font-size="28.5" x="12" y="-28.3">-3</text>
</g>
<g transform="translate(1388.1 868) scale(0.83 1)">
<text font-size="49.4" x="-37">10</text><text font-size="28.5" x="12" y="-28.3">-1</text>
</g>
<g transform="translate(1555.5 868) scale(0.83 1)">
<text font-size="49.4" x="-33.3">10</text><text font-size="28.5" x="16.4" y="-28.3">1</text>
</g>
<g transform="translate(1723 868) scale(0.83 1)">
<text font-size="49.4" x="-33.3">10</text><text font-size="28.5" x="16.4" y="-28.3">3</text>
</g>
<text font-size="49.3" transform="translate(1303.8 916) scale(0.81 1)">Time (s)</text>
<text font-size="50" transform="translate(978.2 774) rotate(-90) scale(0.83 1)" letter-spacing="6">Normalized Photocurrent</text>
<text x="1248.8" y="263" font-size="41.3">Recombination</text>
<text x="1434" y="451.5" font-size="41.3" word-spacing="3">Shallow trap</text>
<text x="1429.8" y="659" font-size="41.3" word-spacing="2">Deep trap</text>
</g>
</svg>
</body></html>
